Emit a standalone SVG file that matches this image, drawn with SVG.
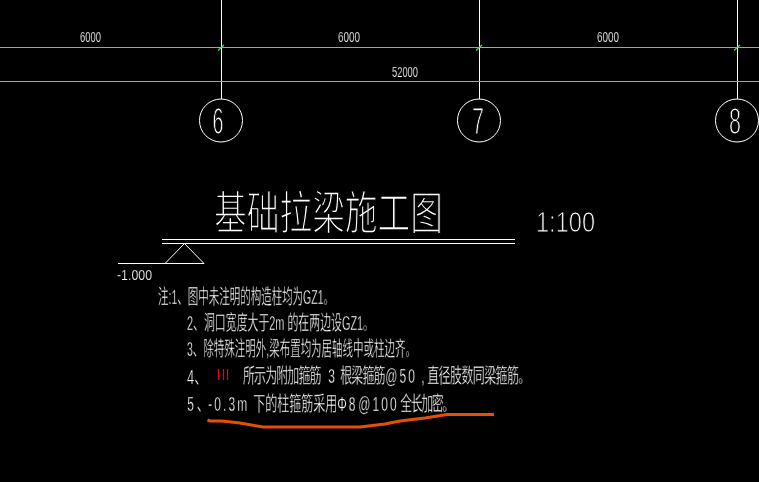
<svg xmlns="http://www.w3.org/2000/svg" width="759" height="482" viewBox="0 0 759 482">
<style>
.g{stroke:#33f033;stroke-width:1.200;fill:none}
.w{stroke:#fff;stroke-width:1;fill:none}
.x{shape-rendering:crispEdges}
.t{fill:#fff;font-family:"Liberation Sans","Noto Sans CJK SC",sans-serif}
.e{paint-order:fill stroke;stroke:#000}
.n{font-size:20px;stroke-width:.4px}
.d{font-size:15px;stroke-width:.25px}
.c{font-size:36px;stroke-width:1.100px}
.s{letter-spacing:3.500px}
.k{letter-spacing:-1.500px}
.l{letter-spacing:-2.500px}
.m{letter-spacing:-1px}
</style>
<defs><filter id="gray" x="-5%" y="-5%" width="110%" height="110%" color-interpolation-filters="sRGB"><feOffset dx="0" dy="0"/></filter></defs>
<rect width="759" height="482" fill="#000"/>
<g id="connectors">
<path class="w x" d="M221.500 0V99M479.500 0V99M737.500 0V99"/>
<path class="g" d="M0 47.500H759M0 81.500H759M218 50.500L224 45M476 50.500L482 45M734 50.500L740 45"/>
<path class="w x" d="M162 239.500H515M162 243.500H515M118 263.500H204"/>
<path class="w" d="M204 263.500L184.500 243.500L165 263.500"/>
</g>
<g id="dim-6000-a" filter="url(#gray)"><text class="t e d" x="80" y="42" textLength="21" lengthAdjust="spacingAndGlyphs">6000</text></g>
<g id="dim-6000-b" filter="url(#gray)"><text class="t e d" x="338" y="42" textLength="22" lengthAdjust="spacingAndGlyphs">6000</text></g>
<g id="dim-6000-c" filter="url(#gray)"><text class="t e d" x="597" y="42" textLength="22" lengthAdjust="spacingAndGlyphs">6000</text></g>
<g id="dim-52000" filter="url(#gray)"><text class="t e d" x="392" y="77" textLength="26" lengthAdjust="spacingAndGlyphs">52000</text></g>
<g id="axis-6"><circle class="w" cx="221" cy="120.500" r="21.500"/><text class="t e c" x="212.500" y="134" textLength="11" lengthAdjust="spacingAndGlyphs" filter="url(#gray)">6</text></g>
<g id="axis-7"><circle class="w" cx="479" cy="120.500" r="21.500"/><text class="t e c" x="472" y="134" textLength="12" lengthAdjust="spacingAndGlyphs" filter="url(#gray)">7</text></g>
<g id="axis-8"><circle class="w" cx="737" cy="120.500" r="21.500"/><text class="t e c" x="729" y="134" textLength="12" lengthAdjust="spacingAndGlyphs" filter="url(#gray)">8</text></g>
<g id="title" filter="url(#gray)"><text class="t e" x="214" y="229" font-size="46" stroke-width="1.600" textLength="229" lengthAdjust="spacingAndGlyphs">基础拉梁施工图</text></g>
<g id="scale" filter="url(#gray)"><text class="t e" x="536" y="232" font-size="30" stroke-width="1" textLength="59" lengthAdjust="spacingAndGlyphs">1:100</text></g>
<g id="elevation" filter="url(#gray)"><text class="t e d" x="117" y="280" textLength="35" lengthAdjust="spacingAndGlyphs">-1.000</text></g>
<g id="notes">
<g filter="url(#gray)">
<text class="t e n" x="158" y="304" textLength="176" lengthAdjust="spacingAndGlyphs">注:1、图中未注明的构造柱均为GZ1。</text>
<text class="t e n" x="187" y="329.500" textLength="187" lengthAdjust="spacingAndGlyphs">2、洞口宽度大于2m 的在两边设GZ1。</text>
<text class="t e n" x="187" y="355.500" textLength="229" lengthAdjust="spacingAndGlyphs">3、除特殊注明外,梁布置均为居轴线中或柱边齐。</text>
<text class="t e n" x="187" y="383.500" textLength="20" lengthAdjust="spacingAndGlyphs">4、</text>
<text class="t e n" transform="scale(.6 1)" y="383.500"><tspan x="405" class="k">所示为附加箍筋</tspan><tspan x="547">3</tspan><tspan x="567" class="k">根梁箍筋</tspan><tspan x="642" class="s">@50</tspan><tspan x="702">,</tspan><tspan x="712" class="m">直径肢数同梁箍筋。</tspan></text>
<text class="t e n" transform="scale(.6 1)" y="411.500"><tspan x="312">5</tspan><tspan x="328">、</tspan><tspan x="347" class="s">-0.3m</tspan><tspan x="422">下的柱箍筋采用</tspan><tspan x="562" class="s">Φ8</tspan><tspan x="597" class="s">@100</tspan><tspan x="667" class="l">全长加密。</tspan></text>
</g>
<path d="M218.500 369V380M223.500 369V380M227.500 369V380" stroke="#f00" stroke-width="1.200" fill="none"/>
</g>
<path id="underline" d="M207.500 420L210 421H222L240 423L263 427H360L385 424L400 421L425 418L447 414.500H494" fill="none" stroke="#e85000" stroke-width="3"/>
</svg>
